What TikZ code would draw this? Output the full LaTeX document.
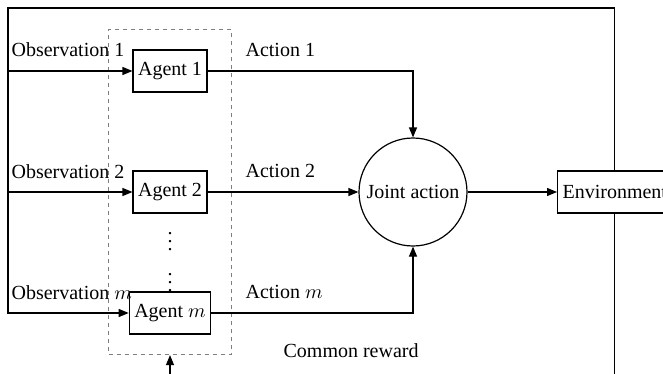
\documentclass[tikz,border=0pt]{standalone}
\usepackage{fontspec}
\setmainfont{Liberation Serif}
\usetikzlibrary{positioning,fit,arrows.meta}

\begin{document}
\begin{tikzpicture}[x=0.5pt,y=-0.5pt,line width=0.6pt,
    agent block/.style={rectangle, draw, minimum height=21pt, inner xsep=2.5pt},
    joint block/.style={circle, draw, minimum size=54pt, inner sep=0pt},
    flow/.style={-{Triangle[length=5pt,width=4pt]}},
    tag/.style={anchor=base west, inner sep=0pt}]
    \useasboundingbox (0,0) rectangle (663,374);
    \clip (0,0) rectangle (663,374);
    % agents
    \node[agent block] (A1) at (170,71) {Agent 1};
    \node[agent block] (A2) at (170,192) {Agent 2};
    \node[agent block] (Am) at (170,313) {Agent $m$};
    \node[inner sep=0pt] (D1) at (170,236) {$\vdots$};
    \node[inner sep=0pt] (D2) at (170,277) {$\vdots$};
    \node[draw=gray, dashed, dash pattern=on 2pt off 2pt, line width=0.5pt, inner sep=10pt, fit=(A1) (Am)] (G) {};
    % joint action and environment
    \node[joint block] (J) at (413,192) {Joint action};
    \node[agent block, anchor=west] (E) at (557,192) {Environment};
    % feedback corners
    \coordinate (TR) at (E.north |- 0,8);
    \coordinate (TL) at (8,8);
    \coordinate (O1) at (8,71);
    \coordinate (O2) at (8,192);
    \coordinate (Om) at (8,313);
    \coordinate (BR) at (E.south |- 0,400);
    \coordinate (BL) at (G.south |- 0,400);
    % observations
    \draw[flow] (E.north) -- (TR) -- (TL) -- (Om) -- (Am);
    \draw[flow] (O1) -- (A1);
    \draw[flow] (O2) -- (A2);
    \node[tag] (L1) at (11,57) {Observation 1};
    \node[tag] (L2) at (11,178) {Observation 2};
    \node[tag] (Lm) at (11,299) {Observation $m$};
    % actions
    \draw[flow] (A1) -| (J.north);
    \draw[flow] (A2) -- (J);
    \draw[flow] (Am) -| (J.south);
    \draw[flow] (J) -- (E);
    \node[tag] (C1) at (245,57) {Action 1};
    \node[tag] (C2) at (245,177) {Action 2};
    \node[tag] (Cm) at (245,298) {Action $m$};
    % reward
    \draw[flow] (E.south) -- (BR) -- (BL) -- (G.south);
    \node[tag] (R) at (283,357) {Common reward};
\end{tikzpicture}
\end{document}
